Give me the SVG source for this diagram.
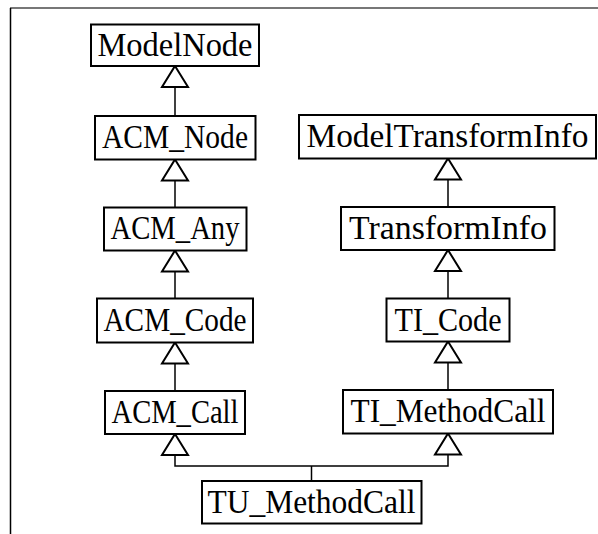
<svg xmlns="http://www.w3.org/2000/svg" width="598" height="534" viewBox="0 0 598 534">
  <style>
    .box { fill: #ffffff; stroke: #000000; stroke-width: 2; }
    .label { font-family: "Liberation Serif", "DejaVu Serif", serif; font-size: 33px; fill: #000000; text-anchor: middle; }
    .edge { fill: none; stroke: #000000; stroke-width: 1.5; }
    .head { fill: #ffffff; stroke: #000000; stroke-width: 2; stroke-linejoin: miter; }
  </style>
  <defs>
    <!-- hollow generalization arrowhead, apex at the origin, opening downward -->
    <path id="tri" class="head" d="M0,0 L13,21 L-13,21 Z"/>
  </defs>

  <rect width="598" height="534" fill="#ffffff"/>

  <!-- frame -->
  <line x1="10" y1="8" x2="598" y2="8" stroke="#777777" stroke-width="2"/>
  <line x1="10.5" y1="8" x2="10.5" y2="534" stroke="#000000" stroke-width="1.5"/>

  <!-- connectors -->
  <g id="connectors">
    <line class="edge" x1="175" y1="87" x2="175" y2="116"/>
    <line class="edge" x1="175" y1="180" x2="175" y2="207"/>
    <line class="edge" x1="175" y1="271" x2="175" y2="298"/>
    <line class="edge" x1="175" y1="363" x2="175" y2="391"/>
    <line class="edge" x1="448" y1="179" x2="448" y2="207"/>
    <line class="edge" x1="448" y1="271" x2="448" y2="298"/>
    <line class="edge" x1="448" y1="362" x2="448" y2="390"/>
    <polyline class="edge" points="175,454 175,466 448,466 448,454"/>
    <line class="edge" x1="311.5" y1="466" x2="311.5" y2="481"/>
    <use href="#tri" x="175" y="66"/>
    <use href="#tri" x="175" y="159.5"/>
    <use href="#tri" x="175" y="250.5"/>
    <use href="#tri" x="175" y="342.5"/>
    <use href="#tri" x="175" y="434"/>
    <use href="#tri" x="448" y="158.5"/>
    <use href="#tri" x="448" y="250"/>
    <use href="#tri" x="448" y="341.5"/>
    <use href="#tri" x="448" y="433.5"/>
  </g>

  <!-- left hierarchy -->
  <g id="ModelNode">
    <rect class="box" x="91" y="24.5" width="168" height="41.5"/>
    <text class="label" x="175" y="55.5" textLength="155" lengthAdjust="spacingAndGlyphs">ModelNode</text>
  </g>
  <g id="ACM_Node">
    <rect class="box" x="95" y="116" width="160.5" height="43.5"/>
    <text class="label" x="175" y="148" textLength="146" lengthAdjust="spacingAndGlyphs">ACM_Node</text>
  </g>
  <g id="ACM_Any">
    <rect class="box" x="104" y="207.5" width="142.5" height="43"/>
    <text class="label" x="175" y="239" textLength="129" lengthAdjust="spacingAndGlyphs">ACM_Any</text>
  </g>
  <g id="ACM_Code">
    <rect class="box" x="97" y="298.5" width="156" height="44"/>
    <text class="label" x="175" y="331" textLength="143" lengthAdjust="spacingAndGlyphs">ACM_Code</text>
  </g>
  <g id="ACM_Call">
    <rect class="box" x="105" y="391" width="140" height="43"/>
    <text class="label" x="175" y="423" textLength="127" lengthAdjust="spacingAndGlyphs">ACM_Call</text>
  </g>

  <!-- right hierarchy -->
  <g id="ModelTransformInfo">
    <rect class="box" x="299" y="115" width="297" height="43.5"/>
    <text class="label" x="447.5" y="147" textLength="282" lengthAdjust="spacingAndGlyphs">ModelTransformInfo</text>
  </g>
  <g id="TransformInfo">
    <rect class="box" x="341" y="207" width="213.5" height="43"/>
    <text class="label" x="448" y="239" textLength="198" lengthAdjust="spacingAndGlyphs">TransformInfo</text>
  </g>
  <g id="TI_Code">
    <rect class="box" x="386.5" y="298.5" width="123" height="43"/>
    <text class="label" x="448" y="330.5" textLength="107" lengthAdjust="spacingAndGlyphs">TI_Code</text>
  </g>
  <g id="TI_MethodCall">
    <rect class="box" x="343" y="390" width="210" height="43.5"/>
    <text class="label" x="448" y="422" textLength="195" lengthAdjust="spacingAndGlyphs">TI_MethodCall</text>
  </g>

  <!-- shared subclass -->
  <g id="TU_MethodCall">
    <rect class="box" x="202" y="481" width="219.5" height="42.5"/>
    <text class="label" x="311.5" y="513" textLength="208" lengthAdjust="spacingAndGlyphs">TU_MethodCall</text>
  </g>
</svg>
